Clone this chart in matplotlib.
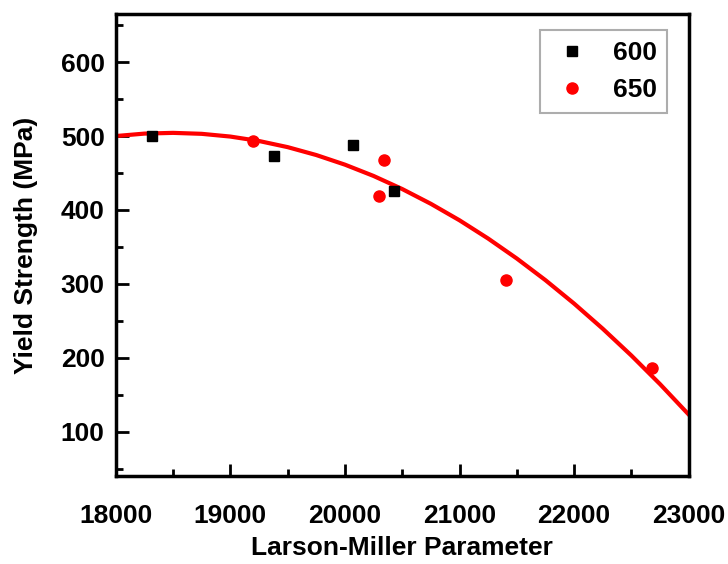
import matplotlib.pyplot as plt
from matplotlib.ticker import MultipleLocator

# Data
lmp_600 = [18314, 19379, 20068, 20426]
ys_600 = [500, 473, 488, 425]

lmp_650 = [19195, 20339, 20295, 21403, 22677]
ys_650 = [493, 468, 419, 305, 186]

# fitted curve
fit_x = [18000, 18250, 18500, 18750, 19000, 19250, 19500, 19750, 20000, 20250, 20500,
         20750, 21000, 21250, 21500, 21750, 22000, 22250, 22500, 22750, 23000]
fit_y = [500, 503.3, 504.3, 503.0, 499.3, 493.3, 485, 474.3, 461.3, 446, 428.3,
         408.3, 386, 361.3, 334.3, 305, 273.3, 239.3, 203, 164.3, 123.2]

plt.rcParams['font.family'] = ['Liberation Sans', 'DejaVu Sans']
plt.rcParams['font.weight'] = 'bold'

fig = plt.figure(figsize=(7.28, 5.64), dpi=100)
ax = fig.add_axes([0.159, 0.156, 0.787, 0.819])

ax.plot(fit_x, fit_y, color='red', lw=3, zorder=2)
ax.plot(lmp_600, ys_600, 's', color='black', ms=7, label='600', zorder=3)
ax.plot(lmp_650, ys_650, 'o', color='red', ms=8, label='650', zorder=3)

ax.set_xlim(18000, 23000)
ax.set_ylim(40, 665)
ax.xaxis.set_major_locator(MultipleLocator(1000))
ax.xaxis.set_minor_locator(MultipleLocator(500))
ax.yaxis.set_major_locator(MultipleLocator(100))
ax.yaxis.set_minor_locator(MultipleLocator(50))
ax.set_yticks([100, 200, 300, 400, 500, 600])

ax.tick_params(which='both', direction='in', width=2, labelsize=19, top=False, right=False)
ax.tick_params(which='major', length=9)
ax.tick_params(which='minor', length=5)
ax.tick_params(axis='x', pad=20)
ax.tick_params(axis='y', pad=8)
for s in ax.spines.values():
    s.set_linewidth(2.5)

ax.set_xlabel('Larson-Miller Parameter', fontsize=19, fontweight='bold', labelpad=6)
ax.set_ylabel('Yield Strength (MPa)', fontsize=19, fontweight='bold', labelpad=16)

leg = ax.legend(loc='upper right', bbox_to_anchor=(0.963, 0.965), borderaxespad=0,
                fontsize=19, fancybox=False, edgecolor='#999999', handlelength=1.6,
                handletextpad=0.75, borderpad=0.4, labelspacing=0.5)
leg.get_frame().set_linewidth(1.5)

fig.savefig('out.png', dpi=100)
